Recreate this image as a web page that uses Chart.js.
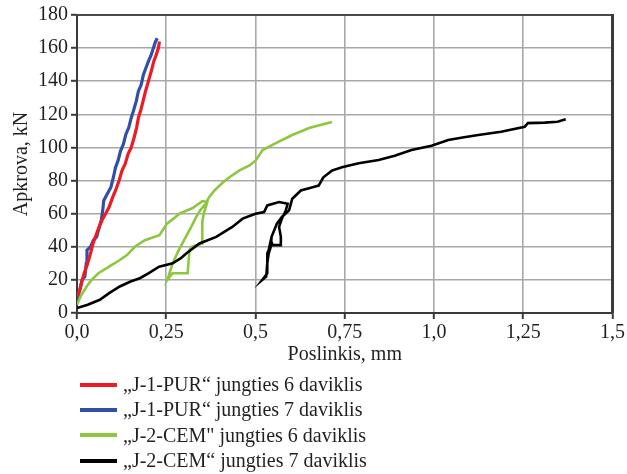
<!DOCTYPE html>
<html>
<head>
<meta charset="utf-8">
<script src="https://cdn.jsdelivr.net/npm/chart.js@4.4.1/dist/chart.umd.min.js"></script>
<style>
  html, body { margin: 0; padding: 0; background: #ffffff; }
  #wrap { position: relative; width: 627px; height: 474px; }
  #c { position: absolute; left: 0; top: 0; }
  #legend { position: absolute; left: 80px; top: 372px; font-family: "Liberation Serif", "DejaVu Serif", serif; font-size: 20px; color: #231f20; }
  .row { height: 25.3px; line-height: 25.3px; display: flex; align-items: center; white-space: nowrap; }
  .sw { width: 37px; height: 4px; margin-right: 6px; }
</style>
</head>
<body>
<div id="wrap">
  <canvas id="c" width="627" height="474"></canvas>
  <div id="legend"></div>
</div>
<script>
// ---- data ----
const seriesNames = [
  '\u201EJ-1-PUR\u201C jungties 6 daviklis',
  '\u201EJ-1-PUR\u201C jungties 7 daviklis',
  '\u201EJ-2-CEM" jungties 6 daviklis',
  '\u201EJ-2-CEM\u201C jungties 7 daviklis'
];
const seriesColors = ['#ed1c24', '#2f50a6', '#8dc63f', '#000000'];

const xTickLabels = ['0,0', '0,25', '0,5', '0,75', '1,0', '1,25', '1,5'];
const xTitle = 'Poslinkis, mm';
const yTitle = 'Apkrova, kN';

const pur6X = [0, 0.008, 0.015, 0.02, 0.03, 0.038, 0.045, 0.055, 0.062, 0.07, 0.08, 0.09, 0.1, 0.108, 0.118, 0.126, 0.135, 0.143, 0.152, 0.16, 0.167, 0.172, 0.178, 0.185, 0.192, 0.2, 0.208, 0.215, 0.222, 0.228, 0.231];
const pur6Y = [10, 14, 20, 24, 30, 36, 42, 48, 52, 56, 60, 64, 70, 74, 80, 86, 90, 96, 100, 106, 112, 118, 122, 128, 134, 140, 146, 152, 156, 160, 164];

const pur7X = [0, 0.008, 0.014, 0.022, 0.026, 0.028, 0.038, 0.046, 0.055, 0.06, 0.068, 0.072, 0.075, 0.085, 0.095, 0.102, 0.108, 0.115, 0.122, 0.13, 0.137, 0.145, 0.152, 0.158, 0.166, 0.172, 0.18, 0.186, 0.193, 0.2, 0.208, 0.214, 0.22, 0.225];
const pur7Y = [8, 14, 20, 22, 30, 38, 40, 44, 46, 50, 56, 62, 68, 72, 76, 82, 88, 92, 98, 102, 108, 112, 118, 122, 128, 134, 138, 144, 148, 152, 156, 160, 164, 166];

const cem6X = [0, 0.01, 0.027, 0.041, 0.06, 0.09, 0.12, 0.14, 0.162, 0.19, 0.231, 0.252, 0.27, 0.287, 0.324, 0.351, 0.365,
               0.355, 0.351, 0.351, 0.32, 0.315, 0.31, 0.268, 0.253,
               0.256, 0.268, 0.285, 0.3, 0.32, 0.334, 0.345, 0.36, 0.37,
               0.385, 0.407, 0.427, 0.454, 0.482, 0.5, 0.52, 0.557, 0.603, 0.65, 0.714];
const cem6Y = [5, 10, 16, 20, 24, 28, 32, 35, 40, 44, 47, 54, 57, 60, 63.4, 67.6, 67,
               60, 55, 42, 40, 38, 24, 24, 20,
               22, 30, 38, 44, 52, 58, 62, 66, 70,
               74, 78.5, 82, 86, 89, 92, 98.4, 102.6, 107.5, 111.7, 115.3];

const cem7X = [0, 0.03, 0.064, 0.09, 0.12, 0.15, 0.176, 0.2, 0.23, 0.268, 0.29, 0.306, 0.343, 0.39, 0.435, 0.464, 0.5, 0.524, 0.533, 0.566, 0.59,
               0.585, 0.574, 0.566, 0.571, 0.571, 0.548, 0.543, 0.537, 0.533, 0.533, 0.519,
               0.53, 0.533, 0.537, 0.543, 0.545, 0.56, 0.574, 0.594, 0.603,
               0.627, 0.66, 0.677, 0.69, 0.714, 0.742, 0.789, 0.845, 0.89, 0.937, 0.993, 1.04, 1.08, 1.124, 1.188, 1.254, 1.263, 1.31, 1.346, 1.369];
const cem7Y = [3, 5, 8, 12, 16, 19, 21, 24, 28, 30, 33, 36, 42, 46, 52, 57, 60, 61, 65, 67, 66,
               62, 57, 52, 46, 41, 41, 44, 38, 36, 24, 20,
               22, 30, 36, 40, 46, 54, 58, 62, 69,
               74, 76, 77, 82, 86, 88, 90.5, 92.4, 95, 98.4, 101, 104.5, 106, 107.5, 109.5, 112.5, 114.7, 115, 115.5, 117];

// ---- build ----
const xs = [pur6X, pur7X, cem6X, cem7X];
const ys = [pur6Y, pur7Y, cem6Y, cem7Y];
const widths = [3.2, 3.2, 2.6, 2.6];
const datasets = seriesNames.map((name, i) => ({
  label: name,
  data: xs[i].map((x, j) => ({ x: x, y: ys[i][j] })),
  borderColor: seriesColors[i],
  backgroundColor: seriesColors[i],
  borderWidth: widths[i],
  pointRadius: 0,
  showLine: true,
  tension: 0,
  fill: false
}));
// draw order: black and green under, blue over red
const order = [3, 2, 0, 1];
const orderedDatasets = order.map(i => datasets[i]);

const FONT = '"Liberation Serif", "DejaVu Serif", serif';
const TXT = '#231f20';

const frame = {
  id: 'frame',
  beforeDatasetsDraw(chart) {
    const { ctx, chartArea: a } = chart;
    ctx.save();
    ctx.strokeStyle = '#4a4a4a';
    ctx.lineWidth = 2;
    ctx.beginPath();
    ctx.moveTo(a.left, a.top);
    ctx.lineTo(a.right, a.top);
    ctx.stroke();
    ctx.lineWidth = 3;
    ctx.strokeStyle = '#3a3a3a';
    ctx.beginPath();
    ctx.moveTo(a.right, a.top - 1);
    ctx.lineTo(a.right, a.bottom);
    ctx.stroke();
    ctx.restore();
  }
};

new Chart(document.getElementById('c'), {
  type: 'scatter',
  data: { datasets: orderedDatasets },
  options: {
    responsive: false,
    animation: false,
    layout: { padding: { left: 0, top: 15, right: 12, bottom: 101 } },
    plugins: { legend: { display: false }, tooltip: { enabled: false } },
    scales: {
      x: {
        type: 'linear', min: 0, max: 1.5,
        afterFit(s) { s.height = 60; },
        ticks: {
          stepSize: 0.25, padding: 2, color: TXT,
          font: { family: FONT, size: 20 },
          maxRotation: 0, autoSkip: false,
          callback: (v, i) => xTickLabels[i]
        },
        grid: { color: '#a8a8a8', lineWidth: 1.6, tickLength: 6, tickColor: '#3a3a3a', tickWidth: 2 },
        border: { color: '#3a3a3a', width: 2 },
        title: { display: true, text: xTitle, color: TXT, font: { family: FONT, size: 20 }, padding: { top: 0, bottom: 6 } }
      },
      y: {
        type: 'linear', min: 0, max: 180,
        afterFit(s) { s.width = 77; },
        ticks: {
          stepSize: 20, padding: 3, color: TXT,
          font: { family: FONT, size: 20 }
        },
        grid: { color: '#a8a8a8', lineWidth: 1.6, tickLength: 6, tickColor: '#3a3a3a', tickWidth: 2 },
        border: { color: '#3a3a3a', width: 2 },
        title: { display: true, text: yTitle, color: TXT, font: { family: FONT, size: 20 }, padding: { top: 10, bottom: 0 } }
      }
    }
  },
  plugins: [frame]
});

// HTML legend
const leg = document.getElementById('legend');
seriesNames.forEach((n, i) => {
  const r = document.createElement('div');
  r.className = 'row';
  const sw = document.createElement('span');
  sw.className = 'sw';
  sw.style.background = seriesColors[i];
  const t = document.createElement('span');
  t.textContent = n;
  r.appendChild(sw); r.appendChild(t);
  leg.appendChild(r);
});
</script>
</body>
</html>
